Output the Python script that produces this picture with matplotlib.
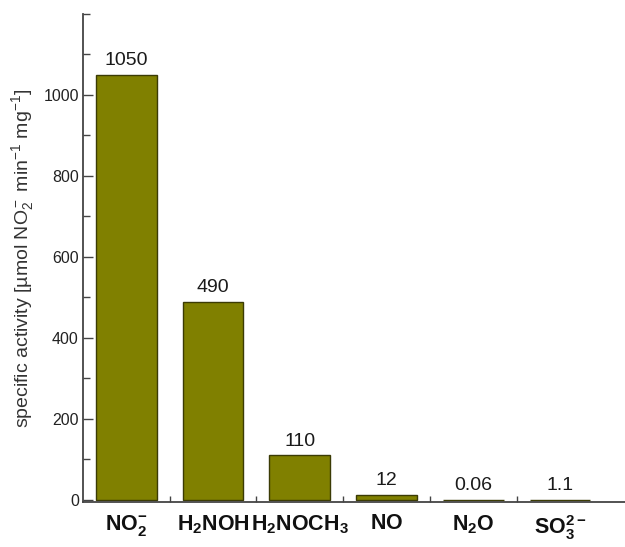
import matplotlib
matplotlib.use("Agg")
import matplotlib.pyplot as plt
from matplotlib.ticker import MultipleLocator, FixedLocator

plt.rcParams['font.family'] = ['Liberation Sans', 'DejaVu Sans']
plt.rcParams['mathtext.fontset'] = 'custom'
plt.rcParams['mathtext.rm'] = 'Liberation Sans'
plt.rcParams['mathtext.it'] = 'Liberation Sans:italic'
plt.rcParams['mathtext.bf'] = 'Liberation Sans:bold'

categories = [r'$\mathbf{NO_2^{-}}$', r'$\mathbf{H_2NOH}$', r'$\mathbf{H_2NOCH_3}$',
              r'$\mathbf{NO}$', r'$\mathbf{N_2O}$', r'$\mathbf{SO_3^{2-}}$']
values = [1050, 490, 110, 12, 0.06, 1.1]
value_labels = ['1050', '490', '110', '12', '0.06', '1.1']
yticks = [0, 200, 400, 600, 800, 1000]

fig = plt.figure(figsize=(6.25, 5.47), dpi=100)
ax = fig.add_axes([83/625, 45/547, 1 - 83/625, (502-14)/547])

x = list(range(len(values)))
ax.bar(x, values, width=0.7, color='#808000', edgecolor='#3b3b05', linewidth=1.0, zorder=2)

for xi, v, lab in zip(x, values, value_labels):
    ax.annotate(lab, (xi, v), xytext=(0, 7), textcoords='offset points',
                ha='center', va='baseline', fontsize=14, color='#1a1a1a')

ax.set_xlim(-0.5, 5.75)
ax.set_ylim(-5, 1200)
ax.set_xticks(x)
ax.set_xticklabels(categories, fontsize=15.5)
ax.xaxis.set_minor_locator(FixedLocator([0.5, 1.5, 2.5, 3.5, 4.5]))
ax.tick_params(axis='x', which='major', length=0, pad=8, colors='#111111')
ax.tick_params(axis='x', which='minor', direction='in', length=4, width=1, color='#444444')

ax.set_yticks(yticks)
ax.yaxis.set_minor_locator(MultipleLocator(100))
ax.tick_params(axis='y', which='major', direction='in', length=7, width=1, color='#444444',
               labelsize=11.5, labelcolor='#222222', pad=3)
ax.tick_params(axis='y', which='minor', direction='in', length=5, width=1, color='#444444')

for s in ['top', 'right']:
    ax.spines[s].set_visible(False)
for s in ['left', 'bottom']:
    ax.spines[s].set_color('#444444')
    ax.spines[s].set_linewidth(1.3)

ax.set_ylabel(r'specific activity [µmol NO$_2^-$ min$^{-1}$ mg$^{-1}$]', fontsize=14,
              color='#333333', labelpad=5)

fig.savefig('out.png', dpi=100)
